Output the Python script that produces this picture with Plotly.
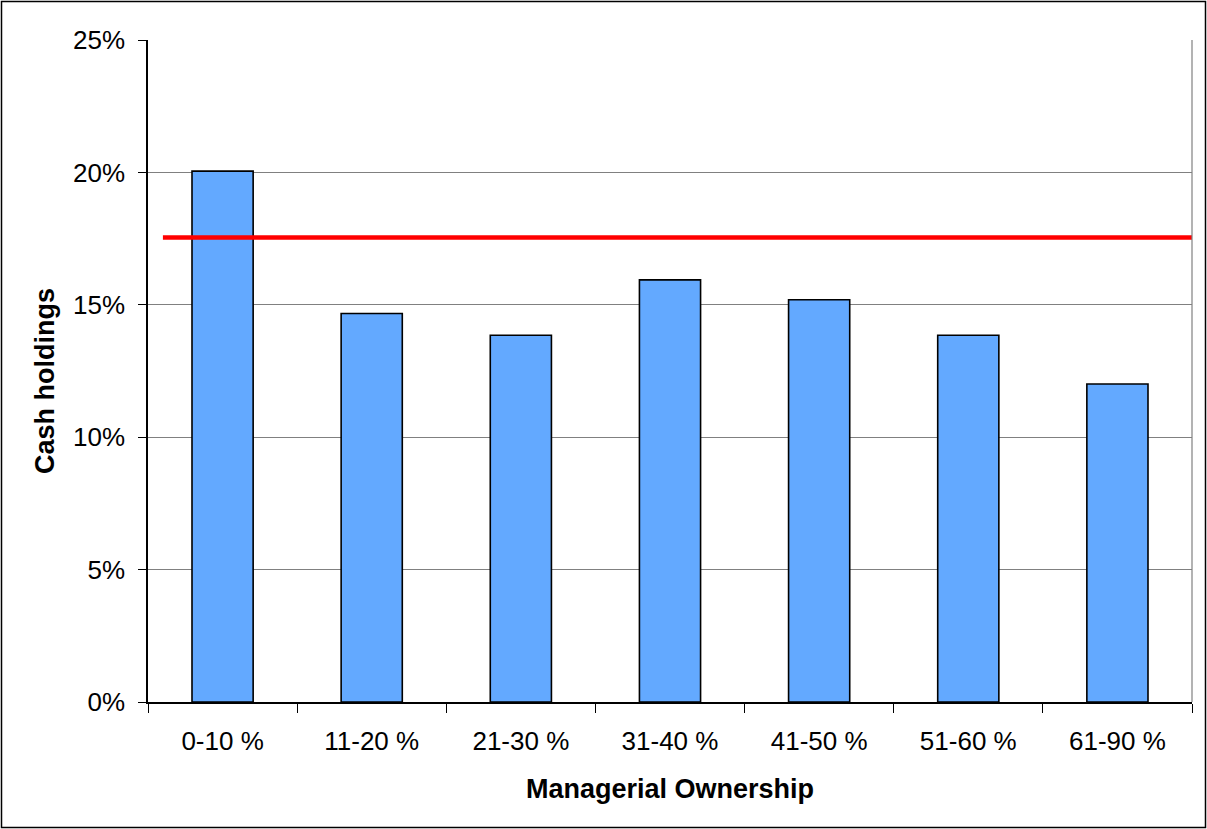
import plotly.graph_objects as go

# Cash holdings by managerial ownership bracket
categories = ["0-10 %", "11-20 %", "21-30 %", "31-40 %", "41-50 %", "51-60 %", "61-90 %"]
cash_holdings = [0.2005, 0.1467, 0.1385, 0.1594, 0.1519, 0.1385, 0.1201]
average_cash = 0.1754  # overall sample average (reference line)
line_x_start = -0.4
line_x_end = 6.52

W, H = 1207, 829
ML, MR, MT, MB = 148, 15, 40, 127
PW, PH = W - ML - MR, H - MT - MB

FONT = "Liberation Sans, Arial, sans-serif"

fig = go.Figure()
fig.add_trace(go.Bar(
    x=categories,
    y=cash_holdings,
    width=0.41,
    marker=dict(color="#63A9FF", line=dict(color="#000000", width=1.6)),
    showlegend=False,
    hoverinfo="x+y",
))


def px_x(p):
    return (p - ML) / PW


def px_y(p):
    return (H - MB - p) / PH


shapes = [
    # average reference line
    dict(type="line", xref="x", yref="y", x0=line_x_start, x1=line_x_end,
         y0=average_cash, y1=average_cash, line=dict(color="#FF0000", width=4.5), layer="above"),
    # right edge of the plot area
    dict(type="line", xref="paper", yref="paper", x0=1, x1=1, y0=0, y1=1,
         line=dict(color="#808080", width=1.2), layer="above"),
    # chart frame
    dict(type="rect", xref="paper", yref="paper",
         x0=px_x(1.5), x1=px_x(1205.5), y0=px_y(827.5), y1=px_y(1.5),
         line=dict(color="#000000", width=1.5), fillcolor="rgba(0,0,0,0)", layer="above"),
]

annotations = [
    dict(text="<b>Managerial Ownership</b>", xref="paper", yref="paper",
         x=px_x(670), y=px_y(789), xanchor="center", yanchor="middle", showarrow=False,
         font=dict(family=FONT, size=27, color="#000000")),
    dict(text="<b>Cash holdings</b>", xref="paper", yref="paper", textangle=-90,
         x=px_x(45), y=px_y(381), xanchor="center", yanchor="middle", showarrow=False,
         font=dict(family=FONT, size=27, color="#000000")),
]

fig.update_layout(
    width=W, height=H,
    margin=dict(l=ML, r=MR, t=MT, b=MB, pad=0),
    paper_bgcolor="#FFFFFF",
    plot_bgcolor="#FFFFFF",
    font=dict(family=FONT, size=26, color="#000000"),
    shapes=shapes,
    annotations=annotations,
    bargap=0.59,
)

fig.update_xaxes(
    type="category",
    range=[-0.5, 6.5],
    showline=True, linecolor="#000000", linewidth=1.5,
    ticks="outside", ticklen=9, tickcolor="#000000", tickwidth=1.2,
    tickson="boundaries",
    showgrid=False,
    ticklabelstandoff=15,
    tickfont=dict(family=FONT, size=26, color="#000000"),
)

fig.update_yaxes(
    range=[0, 0.25],
    dtick=0.05,
    tickformat=".0%",
    showline=True, linecolor="#000000", linewidth=1.5,
    ticks="outside", ticklen=8, tickcolor="#000000", tickwidth=1.2,
    showgrid=True, gridcolor="#808080", gridwidth=1.2,
    zeroline=False,
    ticklabelstandoff=8,
    tickfont=dict(family=FONT, size=26, color="#000000"),
)

fig.write_html("out.html")
